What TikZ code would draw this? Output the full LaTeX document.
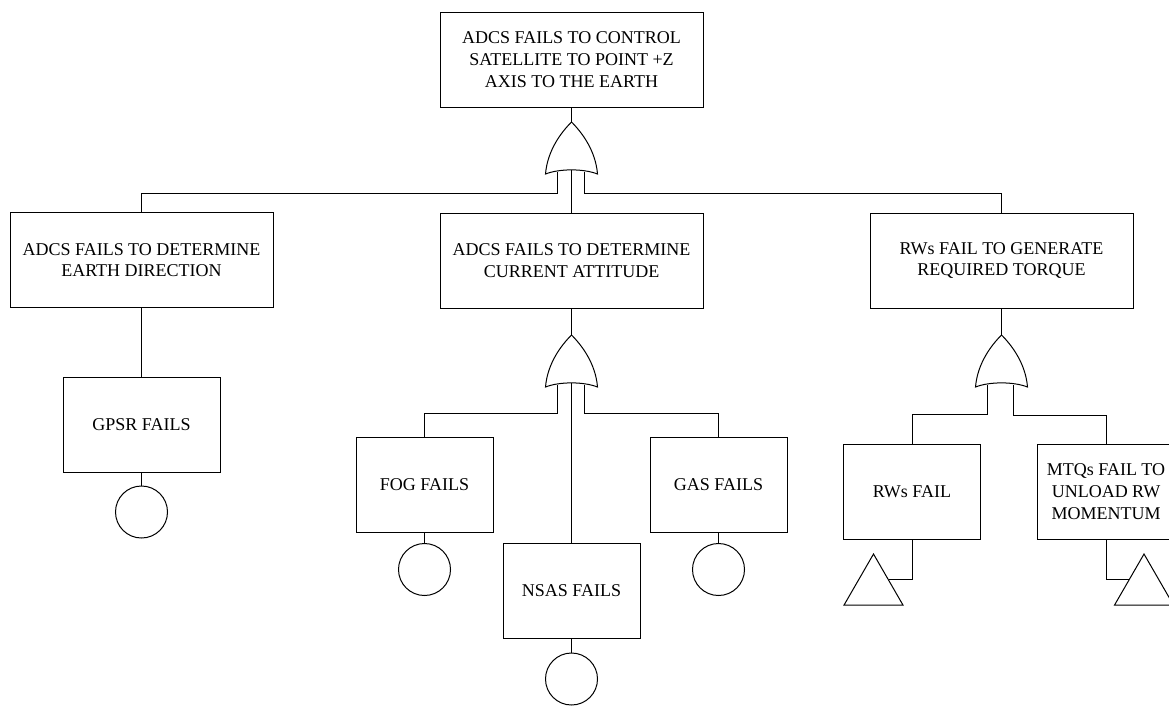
\documentclass[tikz,border=0pt]{standalone}
\usepackage{fontspec}
\setmainfont{Liberation Serif}
\usepackage{tikz}
\usetikzlibrary{shapes.geometric, calc}

\newcommand{\orgate}[1]{\draw[shift={(#1)}] (0,0) .. controls (10,10) and (24,28) .. (26,52) .. controls (12,46.5) and (-12,46.5) .. (-26,52) .. controls (-24,28) and (-10,10) .. cycle;}

\begin{document}
\begin{tikzpicture}[x=1pt, y=-1pt, line width=1pt,
    bigbox/.style={draw, rectangle, minimum width=263pt, minimum height=95pt, align=center},
    smallbox/.style={draw, rectangle, minimum width=137pt, minimum height=95pt, align=center},
    basic/.style={draw, circle, minimum size=52pt, inner sep=0pt},
    undev/.style={draw, regular polygon, regular polygon sides=3, minimum size=68pt, inner sep=0pt},
    font=\fontsize{18}{21.7}\selectfont]
    \useasboundingbox (0,0) rectangle (1169,705);
    \clip (0,0) rectangle (1169,705);
    \node (top) at (571.5,59.5) [bigbox] {ADCS FAILS TO CONTROL\\SATELLITE TO POINT +Z\\AXIS TO THE EARTH};
    \node (earth) at (141.5,260) [bigbox] {ADCS FAILS TO DETERMINE\\EARTH DIRECTION};
    \node (att) at (571.5,260.5) [bigbox] {ADCS FAILS TO DETERMINE\\CURRENT ATTITUDE};
    \node (torque) at (1001.5,260.5) [bigbox] {RWs FAIL TO GENERATE\\REQUIRED TORQUE};
    \node (gpsr) at (141.5,425) [bigbox, minimum width=157pt] {GPSR FAILS};
    \node (fog) at (424.5,485) [smallbox] {FOG FAILS};
    \node (nsas) at (571.5,590.5) [smallbox] {NSAS FAILS};
    \node (gas) at (718.5,485) [smallbox] {GAS FAILS};
    \node (rw) at (912,491.5) [smallbox] {RWs FAIL};
    \node (mtq) at (1106,491.5) [smallbox] {MTQs FAIL TO\\UNLOAD RW\\MOMENTUM};
    \node (gpsrc) at (141.5,512) [basic] {};
    \node (fogc) at (424.5,569.5) [basic] {};
    \node (nsasc) at (571.5,679) [basic] {};
    \node (gasc) at (718.5,569.5) [basic] {};
    \node (rwt) at (873.5,588) [undev] {};
    \node (mtqt) at (1144,588) [undev] {};
    \coordinate (g1) at (571.5,122);
    \coordinate (g2) at (571.5,335);
    \coordinate (g3) at (1001.5,335);
    \orgate{g1}
    \orgate{g2}
    \orgate{g3}
    \draw (top.south) -- (g1);
    \draw ($(g1)+(-14,50)$) -- ++(0,21) -| (earth.north);
    \draw ($(g1)+(0,48)$) -- (att.north);
    \draw ($(g1)+(13,50)$) -- ++(0,21) -| (torque.north);
    \draw (att.south) -- (g2);
    \draw ($(g2)+(-14,50)$) -- ++(0,28) -| (fog.north);
    \draw ($(g2)+(0,48)$) -- (nsas.north);
    \draw ($(g2)+(13,50)$) -- ++(0,28) -| (gas.north);
    \draw (torque.south) -- (g3);
    \draw ($(g3)+(-14,50)$) -- ++(0,29) -| (rw.north);
    \draw ($(g3)+(12,50)$) -- ++(0,30) -| (mtq.north);
    \draw (earth.south) -- (gpsr.north);
    \draw (gpsr.south) -- (gpsrc.north);
    \draw (fog.south) -- (fogc.north);
    \draw (nsas.south) -- (nsasc.north);
    \draw (gas.south) -- (gasc.north);
    \draw (rw.south) |- (rwt.side 3);
    \draw (mtq.south) |- (mtqt.side 1);
\end{tikzpicture}
\end{document}
